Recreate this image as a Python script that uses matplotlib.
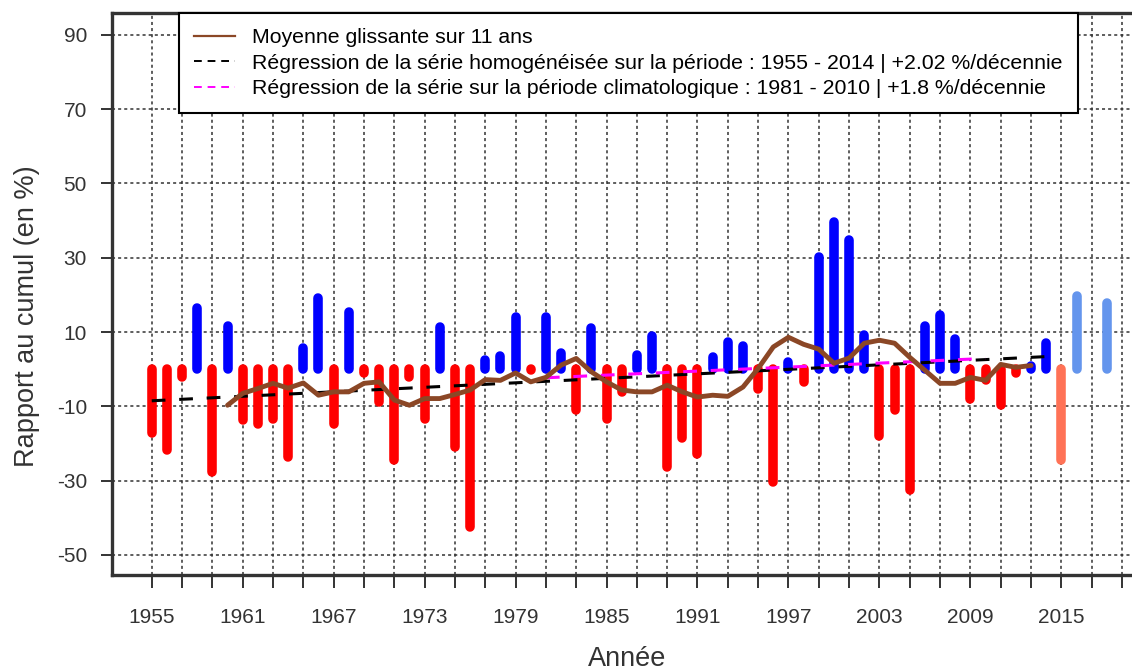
import matplotlib.pyplot as plt

plt.rcParams['font.family'] = ['Liberation Sans', 'DejaVu Sans']
plt.rcParams['axes.unicode_minus'] = False

# Rapport au cumul annuel (en %)
years = list(range(1955, 2019))
values = [-17.2, -21.7, -2.2, 16.4, -27.7, 11.7, -13.7, -14.7, -13.5, -23.7,
          5.7, 19.2, -14.7, 15.4, -1.0, -8.9, -24.5, -2.2, -13.5, 11.3,
          -21.0, -42.5, 2.5, 3.5, 14.0, -0.1, 14.0, 4.3, -11.0, 11.0,
          -13.5, -6.2, 3.8, 8.9, -26.4, -18.6, -22.7, 3.3, 7.3, 6.3,
          -5.2, -30.4, 1.9, -3.5, 30.2, 39.7, 34.7, 9.2, -18.1, -11.1,
          -32.6, 11.6, 14.6, 8.1, -7.9, -3.0, -9.7, -0.9, 0.8, 7.0,
          -24.5, 19.7, 0.1, 17.7]
last_homog_year = 2014

# Moyenne glissante sur 11 ans
ma_years = list(range(1960, 2014))
ma_values = [-9.7, -6.5, -5.2, -3.8, -5.1, -3.7, -7.0, -6.1, -6.1, -3.8,
             -3.4, -8.3, -9.7, -7.9, -7.9, -6.8, -5.6, -2.8, -3.0, -1.0,
             -3.4, -2.2, 1.1, 2.9, -0.7, -3.4, -5.6, -6.1, -6.1, -4.3,
             -6.1, -7.5, -7.0, -7.3, -4.8, 0.2, 6.0, 8.6, 6.7, 5.4,
             1.6, 3.0, 7.0, 7.8, 7.0, 3.2, -0.3, -3.8, -3.8, -2.2,
             -3.0, 1.3, 0.5, 1.0]

# Droites de régression (extrémités)
reg_years = [1955, 2014]
reg_values = [-8.5, 3.4]
clim_years = [1981, 2010]
clim_values = [-2.3, 2.9]

labels = ["Moyenne glissante sur 11 ans",
          "Régression de la série homogénéisée sur la période : 1955 - 2014 | +2.02 %/décennie",
          "Régression de la série sur la période climatologique : 1981 - 2010 | +1.8 %/décennie"]

colors = []
for yr, v in zip(years, values):
    if yr <= last_homog_year:
        colors.append('#FF0000' if v < 0 else '#0000FF')
    else:
        colors.append('#FF7256' if v < 0 else '#6495ED')

fig = plt.figure(figsize=(11.32, 6.71), dpi=100)
ax = fig.add_axes([112 / 1132, 96 / 671, 1020 / 1132, 562 / 671])

ax.set_xlim(1952.38, 2019.66)
ax.set_ylim(-55.4, 95.9)

grid_kw = dict(color='#333333', lw=1.1, ls=(0, (2.0, 2.0)), zorder=1)
for y in range(-50, 91, 20):
    ax.axhline(y, **grid_kw)
for x in range(1955, 2020, 2):
    ax.axvline(x, **grid_kw)

ax.vlines(years, 0, values, colors=colors, lw=6.9, capstyle='round', zorder=3)

ax.plot(reg_years, reg_values, color='black', lw=2.2, ls=(0, (4.5, 4.5)), zorder=4)
ax.plot(clim_years, clim_values, color='#FF00FF', lw=2.2, ls=(0, (4.5, 4.5)), zorder=4)
ax.plot(ma_years, ma_values, color='#8B4726', lw=3.5, solid_capstyle='round',
        solid_joinstyle='round', zorder=5)

ax.set_yticks(range(-50, 91, 20))
ticks = list(range(1955, 2020, 2))
ax.set_xticks(ticks)
ax.set_xticklabels([str(t) if (t - 1955) % 6 == 0 else '' for t in ticks])
ax.tick_params(axis='x', length=9.5, width=1.4, color='#333333', pad=14,
               labelsize=15, labelcolor='#333333')
ax.tick_params(axis='y', length=8, width=1.4, color='#333333', pad=10,
               labelsize=15, labelcolor='#333333')

for side in ['left', 'bottom', 'top']:
    ax.spines[side].set_linewidth(2.4)
    ax.spines[side].set_color('#333333')
ax.spines['right'].set_visible(False)

fig.text(627 / 1132, 1 - 659 / 671, "Année", ha='center', va='center',
         fontsize=19.5, color='#333333')
fig.text(27.5 / 1132, 1 - 316 / 671, "Rapport au cumul (en %)", ha='center',
         va='center', rotation=90, fontsize=19.5, color='#333333')

h1, = ax.plot([], [], color='#8B4726', lw=1.6)
h2, = ax.plot([], [], color='black', lw=1.4, ls=(0, (4, 3)))
h3, = ax.plot([], [], color='#FF00FF', lw=1.4, ls=(0, (4, 3)))
leg = ax.legend([h1, h2, h3], labels, loc='upper left',
                bbox_to_anchor=((179 - 112) / 1020, 1.0), fontsize=15.35,
                frameon=True, fancybox=False, framealpha=1, edgecolor='black',
                handlelength=1.9, handletextpad=0.8, labelspacing=0.3,
                borderpad=0.72, borderaxespad=0)
leg.get_frame().set_linewidth(1.5)
leg.set_zorder(10)

fig.savefig('out.png', dpi=100)
